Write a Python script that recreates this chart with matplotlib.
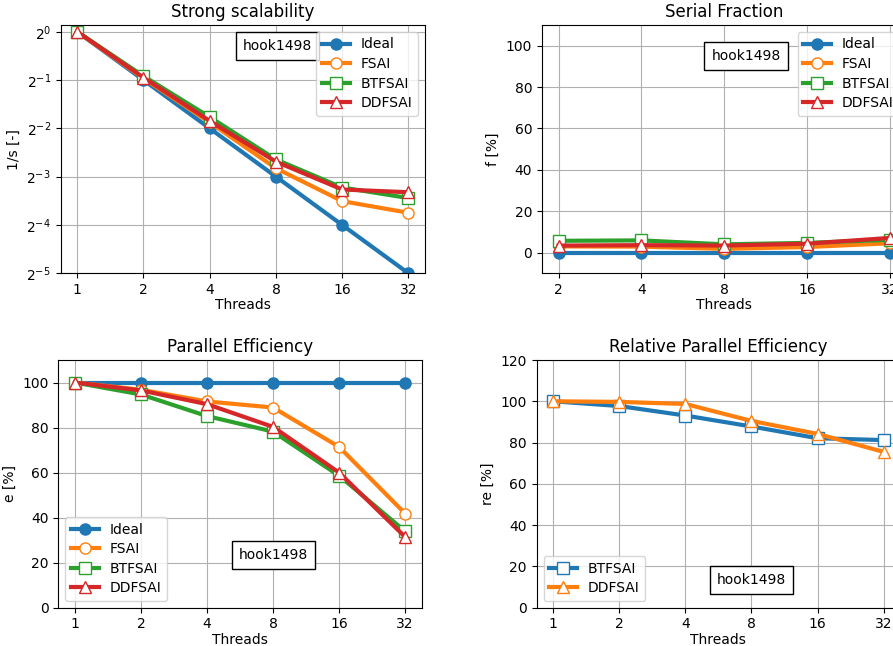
import numpy as np
import matplotlib
matplotlib.use('Agg')
import matplotlib.pyplot as plt

threads = [1, 2, 4, 8, 16, 32]
threads_sf = [2, 4, 8, 16, 32]
tick_labels = ['1', '2', '4', '8', '16', '32']
matrix = 'hook1498'

# strong scalability (1/s)
ss_ideal = [1.0, 0.5, 0.25, 0.125, 0.0625, 0.03125]
ss_fsai = [1.0, 0.512, 0.272, 0.141, 0.088, 0.0745]
ss_btfsai = [1.0, 0.529, 0.294, 0.160, 0.107, 0.092]
ss_ddfsai = [1.0, 0.518, 0.278, 0.155, 0.104, 0.100]

# serial fraction [%]
sf_ideal = [0, 0, 0, 0, 0]
sf_fsai = [3.0, 2.9, 1.8, 2.7, 4.5]
sf_btfsai = [5.7, 5.9, 4.0, 4.7, 6.2]
sf_ddfsai = [3.4, 3.6, 3.4, 4.3, 7.1]

# parallel efficiency [%]
pe_ideal = [100, 100, 100, 100, 100, 100]
pe_fsai = [100, 96.8, 91.6, 88.9, 71.4, 41.8]
pe_btfsai = [100, 94.7, 85.1, 78.2, 58.6, 33.9]
pe_ddfsai = [100, 96.5, 90.4, 80.3, 60.0, 31.4]

# relative parallel efficiency [%]
re_btfsai = [100, 97.7, 93.1, 87.8, 82.1, 81.2]
re_ddfsai = [100, 99.7, 98.7, 90.5, 84.2, 75.5]

plt.rcParams['font.size'] = 10
plt.rcParams['legend.labelspacing'] = 0.4

fig = plt.figure(figsize=(8.93, 6.46), dpi=100)
W, H = 893.0, 646.0
ax1 = fig.add_axes([60.7 / W, (H - 273.3) / H, 364.3 / W, 248.3 / H])
ax2 = fig.add_axes([542 / W, (H - 273.3) / H, 364.3 / W, 248.3 / H])
ax3 = fig.add_axes([58.3 / W, (H - 607.7) / H, 363.4 / W, 247.7 / H])
ax4 = fig.add_axes([536.7 / W, (H - 607.7) / H, 363.4 / W, 247.7 / H])

lw = 3
ms = 8
sty_ideal = dict(color='C0', marker='o', lw=lw, ms=ms)
sty_fsai = dict(color='C1', marker='o', mfc='white', lw=lw, ms=ms)
sty_bt = dict(color='C2', marker='s', mfc='white', lw=lw, ms=ms)
sty_dd = dict(color='C3', marker='^', mfc='white', lw=lw, ms=ms)
box = dict(boxstyle='square,pad=0.5', fc='white', ec='black')

# 1. Strong scalability
ax1.plot(threads, ss_ideal, label='Ideal', **sty_ideal)
ax1.plot(threads, ss_fsai, label='FSAI', **sty_fsai)
ax1.plot(threads, ss_btfsai, label='BTFSAI', **sty_bt)
ax1.plot(threads, ss_ddfsai, label='DDFSAI', **sty_dd)
ax1.set_xscale('log', base=2)
ax1.set_yscale('log', base=2)
ax1.set_ylim(2 ** -5, 2 ** 0.14)
ax1.set_title('Strong scalability', fontsize=12)
ax1.set_ylabel('1/s [-]')
ax1.legend(loc='upper right')
ax1.text(0.595, 0.915, matrix, transform=ax1.transAxes, ha='center', va='center', bbox=box)

# 2. Serial fraction
ax2.plot(threads_sf, sf_ideal, label='Ideal', **sty_ideal)
ax2.plot(threads_sf, sf_fsai, label='FSAI', **sty_fsai)
ax2.plot(threads_sf, sf_btfsai, label='BTFSAI', **sty_bt)
ax2.plot(threads_sf, sf_ddfsai, label='DDFSAI', **sty_dd)
ax2.set_xscale('log', base=2)
ax2.set_ylim(-10, 110)
ax2.set_yticks([0, 20, 40, 60, 80, 100])
ax2.set_title('Serial Fraction', fontsize=12)
ax2.set_ylabel('f [%]')
ax2.legend(loc='upper right')
ax2.text(0.56, 0.875, matrix, transform=ax2.transAxes, ha='center', va='center', bbox=box)

# 3. Parallel efficiency
ax3.plot(threads, pe_ideal, label='Ideal', **sty_ideal)
ax3.plot(threads, pe_fsai, label='FSAI', **sty_fsai)
ax3.plot(threads, pe_btfsai, label='BTFSAI', **sty_bt)
ax3.plot(threads, pe_ddfsai, label='DDFSAI', **sty_dd)
ax3.set_xscale('log', base=2)
ax3.set_ylim(0, 110)
ax3.set_yticks([0, 20, 40, 60, 80, 100])
ax3.set_title('Parallel Efficiency', fontsize=12)
ax3.set_ylabel('e [%]')
ax3.legend(loc='lower left')
ax3.text(0.593, 0.214, matrix, transform=ax3.transAxes, ha='center', va='center', bbox=box)

# 4. Relative parallel efficiency
ax4.plot(threads, re_btfsai, label='BTFSAI', color='C0', marker='s', mfc='white', lw=lw, ms=ms)
ax4.plot(threads, re_ddfsai, label='DDFSAI', color='C1', marker='^', mfc='white', lw=lw, ms=ms)
ax4.set_xscale('log', base=2)
ax4.set_ylim(0, 120)
ax4.set_title('Relative Parallel Efficiency', fontsize=12)
ax4.set_ylabel('re [%]')
ax4.legend(loc='lower left')
ax4.text(0.592, 0.113, matrix, transform=ax4.transAxes, ha='center', va='center', bbox=box)

for ax, xs, labs in [(ax1, threads, tick_labels), (ax2, threads_sf, tick_labels[1:]),
                     (ax3, threads, tick_labels), (ax4, threads, tick_labels)]:
    ax.set_xticks(xs)
    ax.set_xticklabels(labs)
    ax.xaxis.set_minor_locator(matplotlib.ticker.NullLocator())
    ax.set_xlabel('Threads', labelpad=1)
    ax.grid(True)

fig.savefig('out.png', dpi=100)
